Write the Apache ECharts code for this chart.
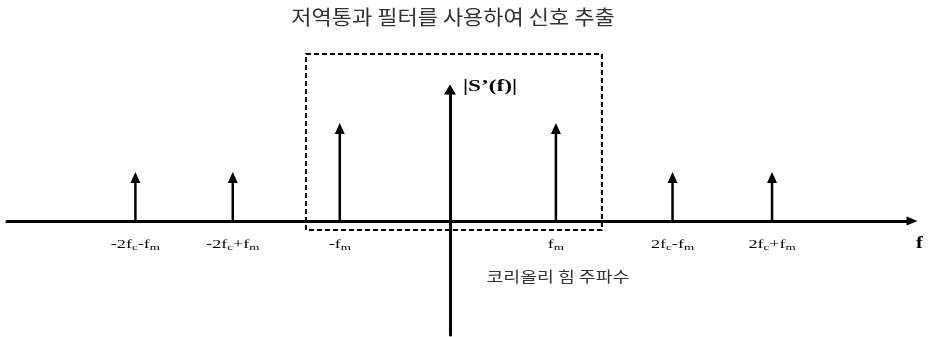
<!DOCTYPE html>
<html>
<head>
<meta charset="utf-8">
<script src="https://cdn.jsdelivr.net/npm/echarts@6/dist/echarts.min.js"></script>
<style>
  html, body { margin: 0; padding: 0; background: #fff; }
  #chart { width: 928px; height: 337px; }
</style>
</head>
<body>
<div id="chart"></div>
<script>
// Spectrum |S'(f)| after demodulation: impulse lines and the low-pass window
const titleText = '저역통과 필터를 사용하여 신호 추출';

// impulse positions (frequency, in units of f_m) and magnitudes
const stemFreq = [-2.94, -2.03, -1.03, 0.99, 2.08, 3.01];
const stemMag = [1, 1, 2, 2, 1, 1];
// tick labels under each impulse (rich text: n = normal, s = subscript)
const stemLabels = [
  '{n|-2f}{s|c}{n|-f}{s|m}',
  '{n|-2f}{s|c}{n|+f}{s|m}',
  '{n|-f}{s|m}',
  '{n|f}{s|m}',
  '{n|2f}{s|c}{n|-f}{s|m}',
  '{n|2f}{s|c}{n|+f}{s|m}'
];

// note under the +f_m impulse
const noteText = '코리올리 힘 주파수';
const noteStem = 3;

// low-pass filter window: frequency span and magnitude span
const passFreq = [-1.346, 1.42];
const passMag = [-0.184, 3.41];

// axis extents and names
const freqRange = [-4.14, 4.318];
const magRange = [-2.327, 2.684];
const freqName = 'f';
const magName = '|S\u2019(f)|';

const SERIF = '"Liberation Serif", "Times New Roman", serif';
const HANGUL = '"Noto Sans CJK KR", sans-serif';
const STRETCH = 1.45;

const chart = echarts.init(document.getElementById('chart'), null, { renderer: 'canvas' });

const option = {
  animation: false,
  backgroundColor: '#fff',
  graphic: [
    {
      type: 'text',
      x: 453,
      y: 17,
      scaleX: 1.1,
      silent: true,
      style: {
        text: titleText,
        align: 'center',
        verticalAlign: 'middle',
        fontFamily: HANGUL,
        fontSize: 20,
        fill: '#333'
      }
    }
  ],
  grid: { left: 7, right: 16, top: 89.5, bottom: 2, containLabel: false },
  xAxis: {
    type: 'value',
    min: freqRange[0],
    max: freqRange[1],
    axisLine: {
      show: true,
      onZero: true,
      symbol: ['none', 'triangle'],
      symbolSize: [9, 11],
      lineStyle: { color: '#000', width: 3 }
    },
    axisTick: { show: false },
    axisLabel: { show: false },
    splitLine: { show: false }
  },
  yAxis: {
    type: 'value',
    min: magRange[0],
    max: magRange[1],
    axisLine: {
      show: true,
      onZero: true,
      symbol: ['none', 'triangle'],
      symbolSize: [12, 10],
      lineStyle: { color: '#000', width: 3 }
    },
    axisTick: { show: false },
    axisLabel: { show: false },
    splitLine: { show: false }
  },
  series: [
    {
      // low-pass window (dashed rectangle)
      type: 'custom',
      clip: false,
      silent: true,
      data: [[passFreq[0], passMag[0], passFreq[1], passMag[1]]],
      renderItem: function (params, api) {
        const a = api.coord([api.value(0), api.value(1)]);
        const b = api.coord([api.value(2), api.value(3)]);
        return {
          type: 'rect',
          shape: { x: a[0], y: b[1], width: b[0] - a[0], height: a[1] - b[1] },
          style: { fill: 'none', stroke: '#000', lineWidth: 2, lineDash: [5, 3] }
        };
      }
    },
    {
      // impulses with arrowheads and their labels
      type: 'custom',
      clip: false,
      silent: true,
      data: stemFreq.map(function (f, i) { return [f, stemMag[i], i]; }),
      encode: { x: 0, y: 1 },
      renderItem: function (params, api) {
        const idx = api.value(2);
        const base = api.coord([api.value(0), 0]);
        const tip = api.coord([api.value(0), api.value(1)]);
        const headH = 11, headW = 10;
        const children = [
          {
            type: 'line',
            shape: { x1: base[0], y1: base[1], x2: tip[0], y2: tip[1] + headH - 1 },
            style: { stroke: '#000', lineWidth: 2.5 }
          },
          {
            type: 'polygon',
            shape: { points: [[tip[0], tip[1]], [tip[0] - headW / 2, tip[1] + headH], [tip[0] + headW / 2, tip[1] + headH]] },
            style: { fill: '#000' }
          },
          {
            type: 'text',
            x: base[0],
            y: base[1] + 23.5,
            scaleX: STRETCH,
            style: {
              text: stemLabels[idx],
              align: 'center',
              verticalAlign: 'middle',
              rich: {
                n: { fontFamily: SERIF, fontSize: 12.5, fill: '#000' },
                s: { fontFamily: SERIF, fontSize: 9, fill: '#000', padding: [7, 0, 0, 0] }
              }
            }
          }
        ];
        if (idx === noteStem) {
          children.push({
            type: 'text',
            x: base[0] + 2,
            y: base[1] + 55,
            scaleX: 1.22,
            style: {
              text: noteText,
              align: 'center',
              verticalAlign: 'middle',
              fontFamily: HANGUL,
              fontSize: 15,
              fill: '#333'
            }
          });
        }
        return { type: 'group', children: children };
      }
    },
    {
      // axis names next to the axis ends
      type: 'custom',
      clip: false,
      silent: true,
      data: [[0, magRange[1], freqRange[1], 0]],
      renderItem: function (params, api) {
        const yEnd = api.coord([api.value(0), api.value(1)]);
        const xEnd = api.coord([api.value(2), api.value(3)]);
        return {
          type: 'group',
          children: [
            {
              type: 'text',
              x: yEnd[0] + 13,
              y: yEnd[1] - 2.5,
              scaleX: STRETCH,
              style: { text: magName, align: 'left', verticalAlign: 'middle', fontFamily: SERIF, fontWeight: 'bold', fontSize: 16, fill: '#000' }
            },
            {
              type: 'text',
              x: xEnd[0] + 4,
              y: xEnd[1] + 23,
              scaleX: 1.2,
              style: { text: freqName, align: 'left', verticalAlign: 'middle', fontFamily: SERIF, fontWeight: 'bold', fontSize: 17, fill: '#000' }
            }
          ]
        };
      }
    }
  ]
};

chart.setOption(option);
</script>
</body>
</html>
